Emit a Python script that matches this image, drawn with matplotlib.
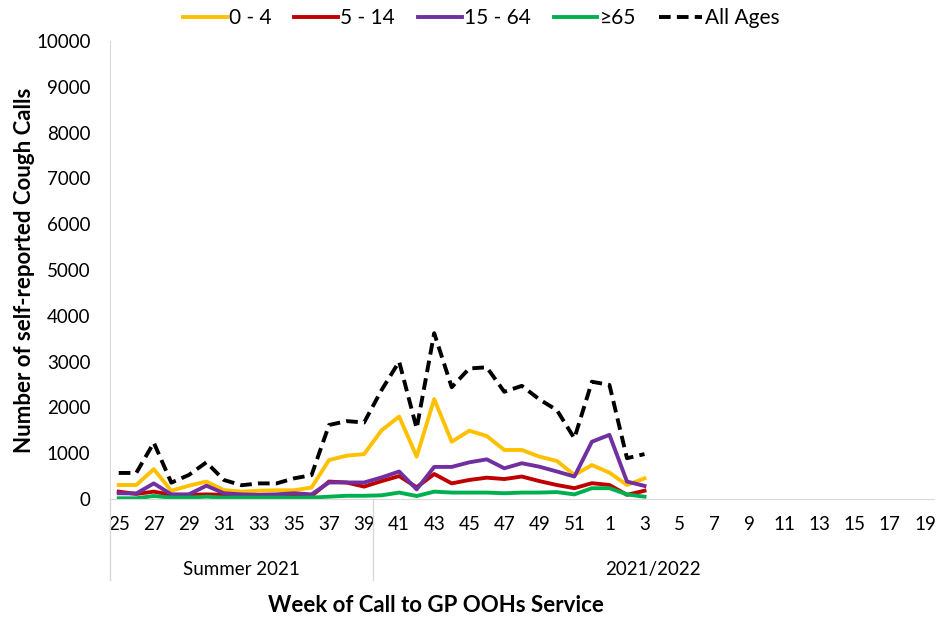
import matplotlib
matplotlib.use("Agg")
import matplotlib.pyplot as plt
import matplotlib.transforms as mtransforms

plt.rcParams["font.family"] = ["Lato", "DejaVu Sans"]

# weeks 25..52 of 2021 then 1..19 of 2022
weeks = list(range(25, 53)) + list(range(1, 20))

age_0_4 = [305, 305, 650, 180, 290, 380, 195, 160, 180, 190, 190, 250, 850, 945, 980, 1500,
           1800, 925, 2180, 1250, 1490, 1375, 1070, 1070, 925, 830, 525, 740, 575, 305, 450]
age_5_14 = [160, 110, 160, 90, 90, 100, 90, 65, 65, 65, 65, 65, 380, 360, 270, 390,
            500, 255, 545, 340, 415, 465, 435, 490, 390, 305, 235, 345, 305, 90, 180]
age_15_64 = [125, 120, 340, 100, 100, 290, 125, 100, 90, 100, 125, 100, 360, 360, 360, 470,
             600, 210, 700, 700, 800, 865, 670, 780, 705, 600, 490, 1250, 1400, 380, 285]
age_65 = [15, 15, 65, 30, 30, 50, 30, 30, 30, 30, 30, 30, 50, 70, 70, 80,
          140, 65, 160, 140, 140, 140, 125, 140, 140, 150, 100, 235, 235, 100, 50]
all_ages = [568, 568, 1230, 356, 524, 800, 415, 300, 340, 340, 450, 520, 1615, 1700, 1670, 2380,
            3000, 1540, 3620, 2440, 2850, 2875, 2340, 2470, 2175, 1940, 1325, 2560, 2490, 890, 980]

groups = ["Summer 2021", "2021/2022"]
group_sizes = [15, 32]

fig = plt.figure(figsize=(9.36, 6.18), dpi=100)
ax = fig.add_axes([0.1175, 0.1926, 0.88, 0.7411])

x = list(range(len(age_0_4)))
lw = 2.8
ax.plot(x, age_0_4, color="#FFC000", lw=lw, label="0 - 4")
ax.plot(x, age_5_14, color="#C00000", lw=lw, label="5 - 14")
ax.plot(x, age_15_64, color="#7030A0", lw=lw, label="15 - 64")
ax.plot(x, age_65, color="#00B050", lw=lw, label="\u226565")
ax.plot(x, all_ages, color="black", lw=lw, ls=(0, (3, 1.6)), label="All Ages")

ax.set_xlim(-0.5, len(weeks) - 0.5)
ax.set_ylim(0, 10000)
ax.set_yticks(range(0, 10001, 1000))
ax.tick_params(axis="y", length=0, labelsize=13.5, pad=14)
ax.set_xticks(range(0, len(weeks), 2))
ax.set_xticklabels([str(w) for w in weeks[::2]])
ax.tick_params(axis="x", length=0, labelsize=13.5, pad=12)

for s in ["top", "right"]:
    ax.spines[s].set_visible(False)
ax.spines["left"].set_color("#D9D9D9")
ax.spines["bottom"].set_color("#D9D9D9")

# group labels under the week ticks
trans = mtransforms.blended_transform_factory(ax.transData, ax.transAxes)
start = -0.5
ax.plot([start, start], [0, -0.177], transform=trans, color="#D9D9D9", lw=1, clip_on=False)
for name, size in zip(groups, group_sizes):
    end = start + size
    ax.text((start + end) / 2, -0.155, name, transform=trans, ha="center", va="center", fontsize=13.5)
    if end < len(weeks) - 0.5:
        ax.plot([end, end], [0, -0.177], transform=trans, color="#D9D9D9", lw=1, clip_on=False)
    start = end

ax.set_ylabel("Number of self-reported Cough Calls", fontsize=16, fontweight="bold", labelpad=1)
fig.text(0.466, 0.021, "Week of Call to GP OOHs Service", ha="center", va="center",
         fontsize=16, fontweight="bold")

fig.legend(loc="upper center", bbox_to_anchor=(0.514, 1.017), ncol=5, frameon=False,
           fontsize=15, handlelength=2.1, handletextpad=0.1, columnspacing=1.1)

fig.savefig("out.png", dpi=100)
